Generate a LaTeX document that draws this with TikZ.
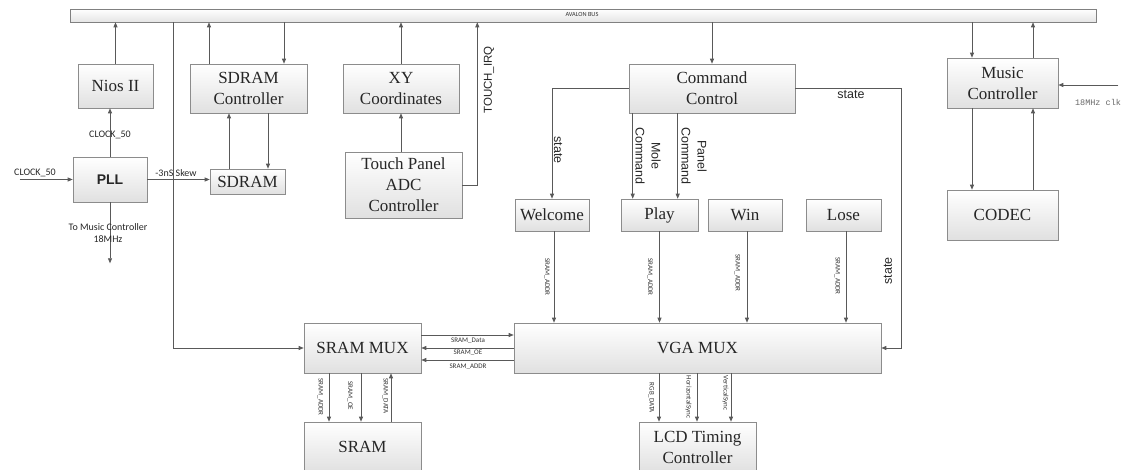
\documentclass[tikz,border=0pt]{standalone}
\usepackage{fontspec}
\setmainfont{Liberation Serif}
\newfontfamily\timesf{Liberation Serif}
\newfontfamily\carlito{Carlito}
\newfontfamily\arialf{Liberation Sans}
\newfontfamily\monof{Liberation Mono}
\usetikzlibrary{arrows.meta,calc,shadows}
\begin{document}
\begin{tikzpicture}[x=1pt,y=-1pt,
  box/.style={draw=black!45, line width=0.6pt, top color=white, bottom color=black!12,
    general shadow={shadow xshift=0.8pt, shadow yshift=-0.8pt, fill=black!35},
    inner sep=0pt, align=center, text=black!85, font=\timesf\fontsize{17}{21}\selectfont},
  arr/.style={draw=black!65, line width=0.7pt, -{Triangle[length=5pt,width=4pt]}},
  ln/.style={draw=black!65, line width=0.7pt},
  lab/.style={font=\carlito\fontsize{7}{8}\selectfont, inner sep=0pt, text=black!80},
  sm/.style={font=\carlito\fontsize{10}{12}\selectfont, inner sep=0pt, text=black!85, align=center},
  ar/.style={font=\arialf\fontsize{12.5}{16}\selectfont, inner sep=0pt, text=black!85, align=center},
]
\useasboundingbox (0,0) rectangle (1125,470);

% bus
\node[draw=black!50, line width=0.6pt, top color=white, bottom color=black!10,
  minimum width=1026pt, minimum height=13pt, inner sep=0pt] (bus) at (583,15.5) {};
\node[font=\carlito\fontsize{6.3}{7}\selectfont, text=black!80, inner sep=0pt] (buslab) at (582,14.5) {AVALON BUS};

% boxes
\node[box, minimum width=75pt, minimum height=44pt] (nios) at (115.5,86) {Nios II};
\node[box, minimum width=117pt, minimum height=49pt] (sdc) at (248.5,88.5) {SDRAM\\Controller};
\node[box, minimum width=74pt, minimum height=45pt, font=\arialf\bfseries\fontsize{14}{16}\selectfont] (pll) at (110,179.5) {PLL};
\node[box, minimum width=75pt, minimum height=25pt] (sdram) at (247.5,181.5) {SDRAM};
\node[box, minimum width=116pt, minimum height=49pt] (xy) at (401,88.5) {XY\\Coordinates};
\node[box, minimum width=117pt, minimum height=66pt] (tp) at (403.5,185) {Touch Panel\\ADC\\Controller};
\node[box, minimum width=166pt, minimum height=49pt] (cc) at (712,88.5) {Command\\Control};
\node[box, minimum width=74pt, minimum height=32pt] (welcome) at (552,215) {Welcome};
\node[box, minimum width=77pt, minimum height=32pt] (play) at (659.5,215) {Play};
\node[box, minimum width=74pt, minimum height=32pt] (win) at (745,215) {Win};
\node[box, minimum width=75pt, minimum height=32pt] (lose) at (843.5,215) {Lose};
\node[box, minimum width=111pt, minimum height=50pt] (mc) at (1002.5,83) {Music\\Controller};
\node[box, minimum width=111pt, minimum height=50pt] (codec) at (1002.5,215) {CODEC};
\node[box, minimum width=117pt, minimum height=50pt] (smux) at (362.5,348) {SRAM MUX};
\node[box, minimum width=367pt, minimum height=50pt] (vga) at (697.5,348) {VGA MUX};
\node[box, minimum width=117pt, minimum height=50pt] (sram) at (362.5,447) {SRAM};
\node[box, minimum width=117pt, minimum height=50pt] (lcd) at (697.5,447) {LCD Timing\\Controller};

% Nios / PLL
\draw[arr] (nios.north) -- (nios.north |- bus.south);
\draw[arr] (pll.north) -- (pll.north |- nios.south);
\node[sm] (lclk1) at (110,135) {CLOCK\_50};
\coordinate (clkin) at ([xshift=-53pt]pll.west);
\draw[arr] (clkin) -- (pll.west);
\node[sm] (lclk2) at (35,173) {CLOCK\_50};
\draw[arr] (pll.east) -- (pll.east -| sdram.west);
\node[sm] (lskew) at (176,173) {-3nS Skew};
\coordinate (pllout) at ([yshift=-61pt]pll.south);
\draw[arr] (pll.south) -- (pllout);
\node[sm] (lmus) at (108,233) {To Music Controller\\18MHz};

% bus line to SRAM MUX
\coordinate (busl) at (bus.south -| 173,0);
\draw[arr] (busl) |- (smux.west);

% SDRAM controller
\path (sdc.north) ++(-39.5,0) coordinate (s1);
\draw[arr] (s1) -- (s1 |- bus.south);
\path (sdc.north) ++(35.5,0) coordinate (s2);
\draw[arr] (s2 |- bus.south) -- (s2);
\path (sdram.north) ++(-18.5,0) coordinate (s3);
\draw[arr] (s3) -- (s3 |- sdc.south);
\path (sdram.north) ++(20.5,0) coordinate (s4);
\draw[arr] (s4 |- sdc.south) -- (s4);

% XY / touch
\draw[arr] (xy.north) -- (xy.north |- bus.south);
\draw[arr] (xy.south |- tp.north) -- (xy.south);
\path (tp.east) ++(15,0) coordinate (irq);
\draw[arr] (tp.east) -- (irq) -- (irq |- bus.south);
\node[font=\arialf\fontsize{11.5}{14}\selectfont, text=black!85, inner sep=0pt, rotate=90] (lirq) at (489,80) {TOUCH\_IRQ};

% Command control
\draw[arr] (cc.north |- bus.south) -- (cc.north);
\draw[arr] (cc.west) -| (welcome.north);
\node[ar, rotate=-90] (lst1) at (558,150) {state};
\path (cc.south west) ++(4,0) coordinate (m1);
\draw[arr] (m1) -- (m1 |- play.north);
\path (cc.south west) ++(49,0) coordinate (m2);
\draw[arr] (m2) -- (m2 |- play.north);
\node[ar, rotate=-90] (lmole) at (648,156) {Mole\\Command};
\node[ar, rotate=-90] (lpanel) at (694,156) {Panel\\Command};
\path (cc.east) ++(106,0) coordinate (st);
\draw[arr] (cc.east) -- (st) |- (vga.east);
\node[ar] (lst2) at (851,95) {state};
\node[ar, rotate=90] (lst3) at (888,271) {state};

% screens to VGA
\draw[arr] ([xshift=2pt]welcome.south) -- ([xshift=2pt]welcome.south |- vga.north);
\draw[arr] (play.south) -- (play.south |- vga.north);
\draw[arr] ([xshift=2pt]win.south) -- ([xshift=2pt]win.south |- vga.north);
\draw[arr] ([xshift=2.5pt]lose.south) -- ([xshift=2.5pt]lose.south |- vga.north);
\node[lab, rotate=-90] (la1) at (547,277) {SRAM\_ADDR};
\node[lab, rotate=-90] (la2) at (650,277) {SRAM\_ADDR};
\node[lab, rotate=-90] (la3) at (737.5,273) {SRAM\_ADDR};
\node[lab, rotate=-90] (la4) at (837.5,276) {SRAM\_ADDR};

% SRAM MUX <-> VGA MUX
\path (smux.east) ++(0,-13) coordinate (d1);
\draw[arr] (d1) -- (d1 -| vga.west);
\draw[arr] (smux.east -| vga.west) -- (smux.east);
\path (smux.east) ++(0,12) coordinate (d3);
\draw[arr] (d3 -| vga.west) -- (d3);
\node[lab] (ld1) at (468,341) {SRAM\_Data};
\node[lab] (ld2) at (468,353) {SRAM\_OE};
\node[lab] (ld3) at (468,367) {SRAM\_ADDR};

% SRAM MUX <-> SRAM
\path (smux.south) ++(-33.5,0) coordinate (e1);
\draw[arr] (e1) -- (e1 |- sram.north);
\path (smux.south) ++(-1.5,0) coordinate (e2);
\draw[arr] (e2) -- (e2 |- sram.north);
\path (smux.south) ++(28.5,0) coordinate (e3);
\draw[arr] (e3 |- sram.north) -- (e3);
\node[lab, rotate=-90] (le1) at (320.5,397) {SRAM\_ADDR};
\node[lab, rotate=-90] (le2) at (350,396) {SRAM\_OE};
\node[lab, rotate=-90] (le3) at (385.5,396) {SRAM\_DATA};

% VGA -> LCD
\path (vga.south) ++(-38.5,0) coordinate (f1);
\draw[arr] (f1) -- (f1 |- lcd.north);
\path (vga.south) ++(-0.5,0) coordinate (f2);
\draw[arr] (f2) -- (f2 |- lcd.north);
\path (vga.south) ++(33.5,0) coordinate (f3);
\draw[arr] (f3) -- (f3 |- lcd.north);
\node[lab, rotate=-90] (lf1) at (651.5,398) {RGB\_DATA};
\node[lab, rotate=-90] (lf2) at (688.5,397) {HorizontalSync};
\node[lab, rotate=-90] (lf3) at (725.5,393) {VerticalSync};

% Music controller / CODEC
\path (mc.north) ++(-30.5,0) coordinate (g1);
\draw[arr] (g1 |- bus.south) -- (g1);
\path (mc.north) ++(30.5,0) coordinate (g2);
\draw[arr] (g2) -- (g2 |- bus.south);
\path (mc.south) ++(-30.5,0) coordinate (h1);
\draw[arr] (h1) -- (h1 |- codec.north);
\path (mc.south) ++(30.5,0) coordinate (h2);
\draw[arr] (h2 |- codec.north) -- (h2);
\path (mc.east) ++(60,2) coordinate (clk18);
\draw[arr] (clk18) -- (clk18 -| mc.east);
\node[font=\monof\fontsize{8.5}{10}\selectfont, text=black!60, inner sep=0pt] (lclk18) at (1098,102.5) {18MHz clk};
\end{tikzpicture}
\end{document}
